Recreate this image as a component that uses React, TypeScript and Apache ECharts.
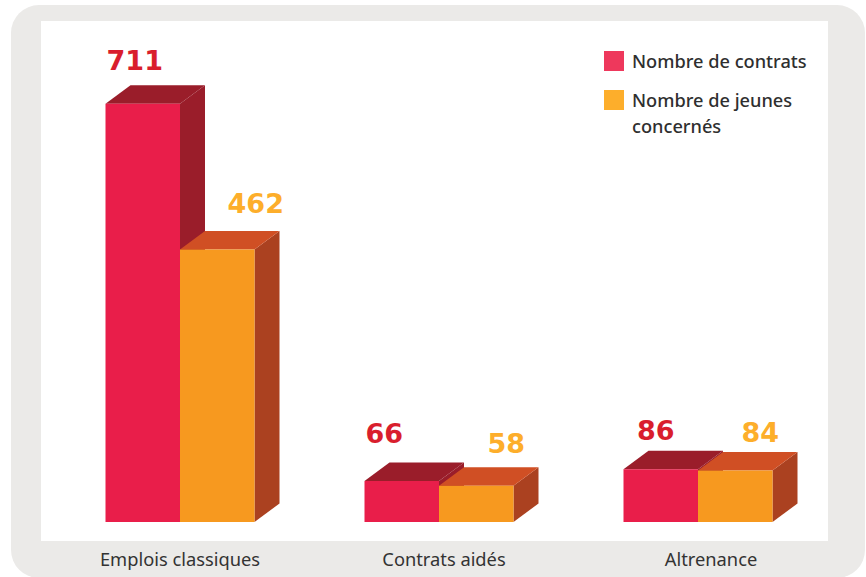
import React, { useEffect, useRef } from "react";
import * as echarts from "echarts";

const categories = ["Emplois classiques", "Contrats aidés", "Altrenance"];
const contrats = [711, 66, 86];
const jeunes = [462, 58, 84];
const seriesNames = ["Nombre de contrats", "Nombre de jeunes concernés"];

// label offsets relative to each bar's centre and top (dx, dy to label's middle)
const contratsLabelOffset = [[-8, -43], [-17.5, -48], [-5, -39]];
const jeunesLabelOffset = [[38.5, -46], [30, -42], [25, -38]];

const Y_MIN = -4;
const Y_MAX = 851;
const DX = 25;
const DY = -18.5;
const BAR_W = 74.5;
const FONT = '"Noto Sans"';

function makeRender(side: number, front: string, top: string, right: string, labelColor: string, offsets: number[][]) {
  return (params: any, api: any) => {
    const i = api.value(0);
    const p = api.coord([i, api.value(1)]);
    const b = api.coord([i, Y_MIN]);
    const x0 = side === 0 ? p[0] - BAR_W : p[0];
    const x1 = x0 + BAR_W;
    const yt = p[1];
    const yb = b[1];
    const off = offsets[params.dataIndex];
    return {
      type: "group",
      children: [
        { type: "polygon", shape: { points: [[x1, yt], [x1 + DX, yt + DY], [x1 + DX, yb + DY], [x1, yb]] }, style: { fill: right } },
        { type: "polygon", shape: { points: [[x0, yt], [x0 + DX, yt + DY], [x1 + DX, yt + DY], [x1, yt]] }, style: { fill: top } },
        { type: "rect", shape: { x: x0, y: yt, width: BAR_W, height: yb - yt }, style: { fill: front } },
        {
          type: "text",
          style: {
            text: String(api.value(1)),
            x: x0 + BAR_W / 2 + off[0],
            y: yt + off[1],
            align: "center",
            verticalAlign: "middle",
            fill: labelColor,
            font: 'bold 27px "DejaVu Sans"',
          },
        },
      ],
    };
  };
}

export default function App() {
  const ref = useRef<HTMLDivElement>(null);
  useEffect(() => {
    const chart = echarts.init(ref.current!, undefined, { renderer: "svg" });
    chart.setOption({
      animation: false,
      backgroundColor: "#ffffff",
      graphic: [
        { type: "rect", z: -2, shape: { x: 11, y: 5, width: 854, height: 573, r: 28 }, style: { fill: "#EBEAE8" } },
        { type: "rect", z: -1, shape: { x: 41, y: 21, width: 787, height: 520 }, style: { fill: "#ffffff" } },
      ],
      grid: { left: 50.5, width: 777, top: 22, height: 500 },
      legend: {
        orient: "vertical",
        left: 599,
        top: 43,
        itemWidth: 20,
        itemHeight: 20,
        itemGap: -13,
        icon: "rect",
        selectedMode: false,
        formatter: (name: string) => (name === seriesNames[1] ? " \nNombre de jeunes\nconcernés" : name),
        textStyle: { color: "#2f2f2f", fontFamily: FONT, fontSize: 18.2, fontWeight: 500, lineHeight: 26, padding: [0, 0, 0, 3] },
        data: [
          { name: seriesNames[0], itemStyle: { color: "#EE385C" } },
          { name: seriesNames[1], itemStyle: { color: "#FDAE2B" } },
        ],
      },
      xAxis: {
        type: "category",
        data: categories,
        axisLine: { show: false },
        axisTick: { show: false },
        axisLabel: {
          margin: 27,
          color: "#333333",
          formatter: (v: string, i: number) => `{${["a", "b", "c"][i]}|${v}}`,
          rich: {
            a: { fontFamily: FONT, fontSize: 18.3, color: "#333333" },
            b: { fontFamily: FONT, fontSize: 18.3, color: "#333333", padding: [0, 0, 0, 10] },
            c: { fontFamily: FONT, fontSize: 18.3, color: "#333333", padding: [0, 0, 0, 26] },
          },
        },
      },
      yAxis: { type: "value", min: Y_MIN, max: Y_MAX, show: false },
      series: [
        {
          type: "custom",
          name: seriesNames[0],
          data: contrats.map((v, i) => [i, v]),
          encode: { x: 0, y: 1 },
          itemStyle: { color: "#EE385C" },
          renderItem: makeRender(0, "#E91E4A", "#9A1D2A", "#9A1D2A", "#D91E2D", contratsLabelOffset),
        },
        {
          type: "custom",
          name: seriesNames[1],
          data: jeunes.map((v, i) => [i, v]),
          encode: { x: 0, y: 1 },
          itemStyle: { color: "#FDAE2B" },
          renderItem: makeRender(1, "#F7991F", "#D04F24", "#AB4120", "#FDAE2B", jeunesLabelOffset),
        },
      ],
    });
    return () => chart.dispose();
  }, []);
  return <div ref={ref} style={{ position: "fixed", left: 0, top: 0, width: 866, height: 577 }} />;
}
